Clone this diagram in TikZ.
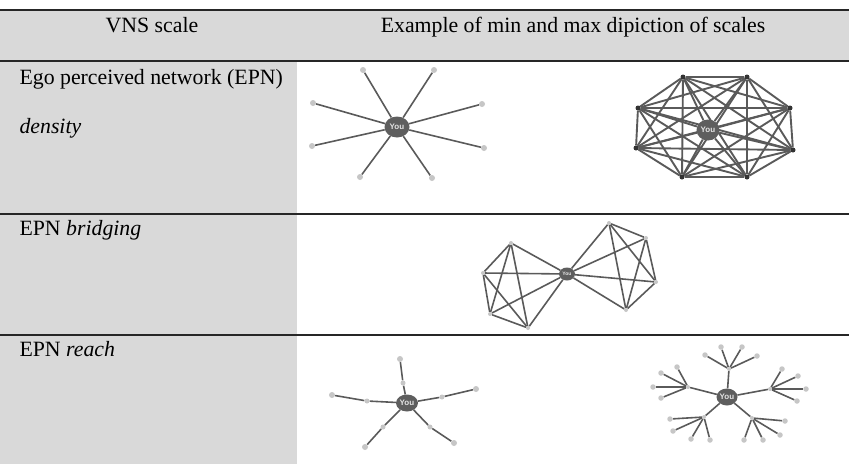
\documentclass[tikz,border=0pt]{standalone}
\usepackage{fontspec}
\setmainfont{Liberation Serif}
\setsansfont{Liberation Sans}
\usetikzlibrary{shapes,backgrounds}
\definecolor{cellgray}{HTML}{D9D9D9}
\definecolor{edgegray}{HTML}{5A5A5A}
\definecolor{leafgray}{HTML}{C6C6C6}
\definecolor{hubgray}{HTML}{5E5E5E}

\begin{document}
\begin{tikzpicture}[x=1pt, y=-1pt,
    every node/.style={font=\fontsize{21.8}{26}\selectfont},
    rule/.style={line width=1.6pt, draw=black!85},
    you/.style={ellipse, fill=hubgray, inner sep=0pt, minimum width=25pt, minimum height=21pt,
      text=white!80!gray, font=\sffamily\bfseries\fontsize{8}{8}\selectfont},
    leaf/.style={circle, fill=leafgray, inner sep=0pt, minimum size=6pt},
    corner/.style={circle, fill=black!80, inner sep=0pt, minimum size=5pt},
    link/.style={draw=edgegray, line width=1.6pt}]
  \useasboundingbox (0,0) rectangle (849,464);

  % table cells and rules
  \fill[cellgray] (0,10) rectangle (849,61);
  \fill[cellgray] (0,61) rectangle (297,464);
  \draw[rule] (0,10) -- (849,10);
  \draw[rule] (0,61) -- (849,61);
  \draw[rule, line width=1.2pt] (0,214) -- (849,214);
  \draw[rule, line width=1.2pt] (0,335) -- (849,335);

  \node[anchor=base] (head1) at (152,32) {VNS scale};
  \node[anchor=base] (head2) at (573,32) {Example of min and max dipiction of scales};
  \node[anchor=base west] (row1) at (16,84) {Ego perceived network (EPN)};
  \node[anchor=base west] (row1b) at (16,133) {\itshape density};
  \node[anchor=base west] (row2) at (16,235) {EPN \itshape bridging};
  \node[anchor=base west] (row3) at (16,356) {EPN \itshape reach};

  % density: star
  \node[you] (a0) at (397,127) {You};
  \foreach \n/\x/\y in {1/363/70, 2/434/70, 3/313/103, 4/482/104,
                        5/312/146, 6/484/148, 7/360/177, 8/432/178}
    \node[leaf] (a\n) at (\x,\y) {};
  \foreach \n in {1,...,8}
    \draw[link] (a0) -- (a\n);

  % density: everyone knows everyone
  \node[you, minimum width=23pt] (b0) at (708,130) {You};
  \foreach \n/\x/\y in {1/683/77, 2/747/77, 3/638/108, 4/790/108,
                        5/636/148, 6/793/150, 7/682/177, 8/747/177}
    \node[corner] (b\n) at (\x,\y) {};
  \begin{scope}[on background layer]
    \foreach \i [evaluate=\i as \k using int(\i+1)] in {0,...,7}
      \foreach \j in {\k,...,8}
        \draw[link, line width=1.9pt] (b\i) -- (b\j);
  \end{scope}

  % bridging: two cliques joined at ego
  \node[you, minimum width=16pt, minimum height=13pt, font=\sffamily\bfseries\fontsize{5}{5}\selectfont] (c0) at (567,274) {You};
  \foreach \n/\x/\y in {1/511/243, 2/483/273, 3/490/314, 4/528/328,
                        5/609/223, 6/646/238, 7/656/282, 8/626/310}
    \node[leaf, minimum size=4pt] (c\n) at (\x,\y) {};
  \begin{scope}[on background layer]
    \foreach \i/\j in {0/1,0/2,0/3,0/4,1/2,1/3,1/4,2/3,2/4,3/4,
                       0/5,0/6,0/7,0/8,5/6,5/7,5/8,6/7,6/8,7/8}
      \draw[link] (c\i) -- (c\j);
  \end{scope}

  % reach: one step out
  \node[you, minimum width=22pt, minimum height=17pt] (r0) at (407,403) {You};
  \foreach \n/\x/\y/\u/\v in {1/403/383/400/359, 2/367/401/332/395, 3/442/397/476/389,
                              4/383/427/365/447, 5/430/427/454/443} {
    \node[leaf, minimum size=5pt] (r\n) at (\x,\y) {};
    \node[leaf] (t\n) at (\u,\v) {};
  }
  \begin{scope}[on background layer]
    \foreach \n in {1,...,5}
      \draw[link] (r0) -- (r\n) -- (t\n);
  \end{scope}

  % reach: two steps out
  \node[you, minimum width=21pt, minimum height=17pt] (q0) at (727,397) {You};
  \foreach \n/\x/\y in {1/729/369, 2/688/387, 3/770/389, 4/704/417, 5/752/418}
    \node[leaf, minimum size=4pt] (q\n) at (\x,\y) {};
  \foreach \n/\k/\x/\y in {1/1/705/355, 1/2/721/347, 1/3/742/347, 1/4/757/356,
                           2/1/661/373, 2/2/677/367, 2/3/653/387, 2/4/661/398,
                           3/1/782/369, 3/2/798/376, 3/3/806/389, 3/4/797/401,
                           4/1/670/419, 4/2/673/431, 4/3/691/439, 4/4/710/440,
                           5/1/785/421, 5/2/780/435, 5/3/763/440, 5/4/744/440}
    \node[leaf, minimum size=5.5pt] (q\n-\k) at (\x,\y) {};
  \begin{scope}[on background layer]
    \foreach \n in {1,...,5} {
      \draw[link] (q0) -- (q\n);
      \foreach \k in {1,...,4}
        \draw[link] (q\n) -- (q\n-\k);
    }
  \end{scope}
\end{tikzpicture}
\end{document}
